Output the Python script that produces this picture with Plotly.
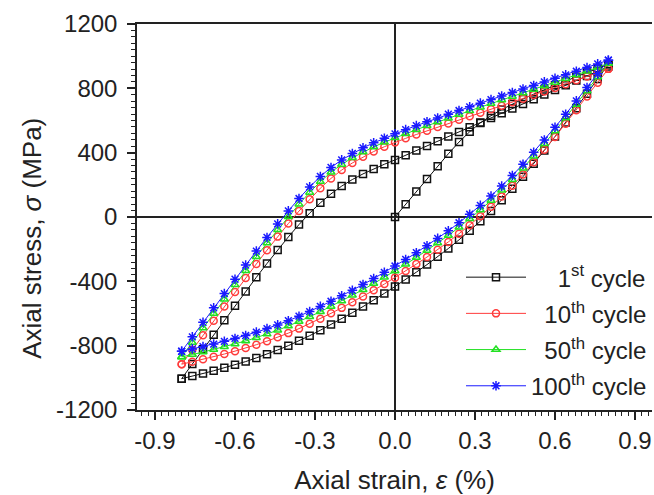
import plotly.graph_objects as go

# ---- data ----
strain_up = [-0.80, -0.76, -0.72, -0.68, -0.64, -0.60, -0.56, -0.52, -0.48, -0.44,
             -0.40, -0.36, -0.32, -0.28, -0.24, -0.20, -0.16, -0.12, -0.08, -0.04,
             0.00, 0.04, 0.08, 0.12, 0.16, 0.20, 0.24, 0.28, 0.32, 0.36,
             0.40, 0.44, 0.48, 0.52, 0.56, 0.60, 0.64, 0.68, 0.72, 0.76, 0.80]
strain_down = [0.80, 0.76, 0.72, 0.68, 0.64, 0.60, 0.56, 0.52, 0.48, 0.44,
               0.40, 0.36, 0.32, 0.28, 0.24, 0.20, 0.16, 0.12, 0.08, 0.04,
               0.00, -0.04, -0.08, -0.12, -0.16, -0.20, -0.24, -0.28, -0.32, -0.36,
               -0.40, -0.44, -0.48, -0.52, -0.56, -0.60, -0.64, -0.68, -0.72, -0.76, -0.80]
strain_init = [0.00, 0.04, 0.08, 0.12, 0.16, 0.20, 0.24, 0.28, 0.32, 0.36,
               0.40, 0.44, 0.48, 0.52, 0.56, 0.60, 0.64, 0.68, 0.72, 0.76, 0.80]

# 1st cycle (black)
c1_init = [0, 79, 158, 237, 316, 393, 466, 530, 585, 630,
           668, 702, 734, 764, 792, 819, 845, 872, 898, 924, 950]
c1_down = [950, 858, 767, 676, 587, 500, 414, 331, 251, 176,
           104, 37, -26, -85, -142, -196, -247, -296, -343, -389,
           -432, -475, -517, -557, -595, -633, -669, -704, -738, -770,
           -800, -827, -853, -876, -899, -919, -938, -956, -973, -989, -1005]
c1_up = [-1005, -914, -823, -732, -642, -552, -463, -375, -289, -205,
         -124, -47, 24, 88, 144, 192, 233, 268, 299, 328,
         355, 384, 413, 442, 471, 500, 529, 558, 587, 616,
         645, 674, 703, 732, 761, 790, 819, 848, 877, 906, 935]

# 10th cycle (red)
c10_down = [921, 835, 749, 664, 580, 498, 418, 340, 265, 194,
            127, 64, 5, -51, -104, -155, -203, -249, -293, -336,
            -377, -417, -456, -494, -530, -565, -599, -632, -664, -694,
            -722, -748, -772, -794, -815, -834, -852, -869, -885, -900, -915]
c10_up = [-915, -825, -735, -645, -556, -467, -379, -292, -206, -122,
          -41, 37, 111, 179, 240, 292, 336, 374, 407, 437,
          464, 489, 513, 536, 559, 582, 604, 626, 648, 670,
          692, 714, 736, 758, 780, 802, 826, 850, 874, 899, 921]

# 50th cycle (green)
c50_down = [955, 870, 784, 700, 616, 535, 455, 377, 303, 232,
            166, 103, 44, -11, -64, -115, -162, -208, -252, -294,
            -335, -375, -414, -452, -487, -522, -556, -589, -620, -650,
            -678, -704, -728, -750, -771, -789, -807, -824, -840, -855, -870]
c50_up = [-870, -780, -690, -600, -511, -422, -334, -247, -162, -79,
          2, 80, 153, 220, 278, 327, 368, 404, 436, 465,
          492, 518, 543, 567, 591, 614, 637, 660, 683, 705,
          727, 749, 771, 793, 815, 837, 860, 883, 906, 930, 955]

# 100th cycle (blue)
c100_down = [975, 890, 805, 722, 639, 558, 479, 402, 328, 258,
             192, 130, 72, 17, -36, -86, -133, -179, -222, -264,
             -305, -344, -383, -420, -456, -490, -524, -556, -588, -617,
             -645, -671, -694, -716, -737, -755, -773, -790, -806, -820, -835]
c100_up = [-835, -745, -655, -565, -476, -387, -299, -212, -127, -43,
           38, 115, 187, 252, 308, 355, 395, 430, 461, 490,
           517, 543, 568, 592, 616, 639, 662, 685, 708, 730,
           752, 774, 796, 818, 840, 862, 884, 906, 929, 952, 975]

x_ticks = [-0.9, -0.6, -0.3, 0.0, 0.3, 0.6, 0.9]
x_ticktext = ["-0.9", "-0.6", "-0.3", "0.0", "0.3", "0.6", "0.9"]
y_ticks = [-1200, -800, -400, 0, 400, 800, 1200]
y_ticktext = ["-1200", "-800", "-400", "0", "400", "800", "1200"]

names = ["\u2007\u20071<sup>st</sup> cycle", "\u200710<sup>th</sup> cycle",
         "\u200750<sup>th</sup> cycle", "100<sup>th</sup> cycle"]
x_title = "Axial strain, <i>\u03b5</i>\u00a0(%)"
y_title = "Axial stress, <i>\u03c3</i>\u00a0(MPa)"

FONT = "Liberation Sans, Arial, sans-serif"
INK = "#222222"

series = [
    (strain_init + strain_down + strain_up, c1_init + c1_down + c1_up,
     "#111111", "square-open", 7),
    (strain_down + strain_up, c10_down + c10_up, "#ff3b3b", "circle-open", 7),
    (strain_down + strain_up, c50_down + c50_up, "#22e022", "triangle-up-open", 7),
    (strain_down + strain_up, c100_down + c100_up, "#1a1aff", "asterisk-open", 8),
]

fig = go.Figure()
for i, (xs, ys, col, sym, sz) in enumerate(series):
    fig.add_trace(go.Scatter(
        x=xs, y=ys, mode="lines+markers", name=names[i],
        legendgroup=f"g{i}",
        line=dict(color=col, width=1),
        marker=dict(symbol=sym, size=sz, color=col, line=dict(color=col, width=1.5)),
    ))

fig.update_layout(
    width=654, height=495,
    margin=dict(l=137, r=2, t=24, b=85),
    paper_bgcolor="white", plot_bgcolor="white",
    font=dict(family=FONT, color=INK, size=24),
    showlegend=True,
    legend=dict(x=1.0, xanchor="right", y=0.005, yanchor="bottom",
                bgcolor="rgba(0,0,0,0)", font=dict(family=FONT, size=24, color=INK),
                tracegroupgap=2, itemwidth=60),
    annotations=[dict(
        text=y_title, textangle=-90, showarrow=False,
        xref="paper", yref="paper", x=-0.204, y=0.446,
        xanchor="center", yanchor="middle",
        font=dict(family=FONT, size=26, color=INK),
    )],
)
fig.update_xaxes(
    range=[-0.9675, 0.9637], tickvals=x_ticks, ticktext=x_ticktext, automargin=False,
    ticks="outside", ticklen=8, tickwidth=1.5, tickcolor=INK,
    showline=True, linewidth=1.5, linecolor=INK, mirror=True,
    showgrid=False, zeroline=True, zerolinecolor=INK, zerolinewidth=1.5,
    minor=dict(dtick=0.025, ticks="outside", ticklen=4, tickcolor=INK, tickwidth=1, showgrid=False),
    tickfont=dict(size=24, color=INK),
    title=dict(text=x_title, font=dict(size=26, color=INK), standoff=19),
)
fig.update_yaxes(
    range=[-1200, 1200], tickvals=y_ticks, ticktext=y_ticktext, automargin=False,
    ticks="outside", ticklen=8, tickwidth=1.5, tickcolor=INK,
    showline=True, linewidth=1.5, linecolor=INK,
    showgrid=False, zeroline=True, zerolinecolor=INK, zerolinewidth=1.5,
    minor=dict(dtick=40, ticks="outside", ticklen=4, tickcolor=INK, tickwidth=1, showgrid=False),
    tickfont=dict(size=24, color=INK), ticklabelstandoff=5,
)

fig.write_html("out.html", config={"displayModeBar": False},
               post_script="document.body.style.margin='0px';")
